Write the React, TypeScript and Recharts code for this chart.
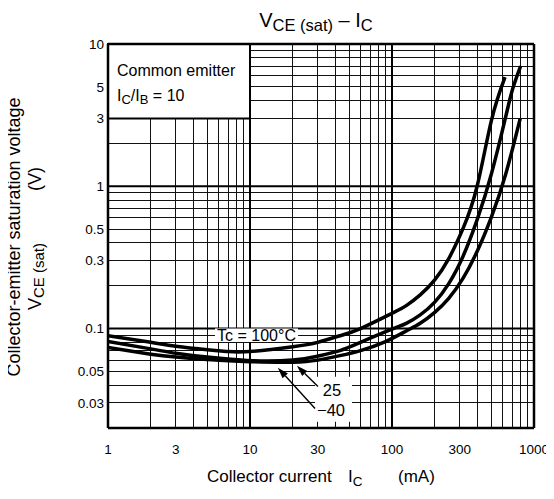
import React from 'react';
import {
  LineChart,
  Line,
  XAxis,
  YAxis,
  ReferenceLine,
  ReferenceArea,
  ReferenceDot,
  Customized,
} from 'recharts';

// ---- axes ----
const xTicks = [1, 3, 10, 30, 100, 300, 1000];
const yTicks = [0.03, 0.05, 0.1, 0.3, 0.5, 1, 3, 5, 10];
const xMinorGrid = [2, 3, 4, 5, 6, 7, 8, 9, 20, 30, 40, 50, 60, 70, 80, 90, 200, 300, 400, 500, 600, 700, 800, 900];
const xDecadeGrid = [10, 100];
const yMinorGrid = [0.03, 0.04, 0.05, 0.06, 0.07, 0.08, 0.09, 0.2, 0.3, 0.4, 0.5, 0.6, 0.7, 0.8, 0.9, 2, 3, 4, 5, 6, 7, 8, 9];
const yDecadeGrid = [0.1, 1];
const xDomain = [1, 1000];
const yDomain = [0.02, 10];

// ---- series: collector current (mA) vs VCE(sat) (V) ----
const ic100 = [1, 2, 3, 5, 7, 10, 20, 30, 43, 60, 100, 126, 158, 200, 251, 316, 398, 501, 625];
const vce100 = [0.089, 0.08, 0.075, 0.071, 0.069, 0.069, 0.0745, 0.08, 0.089, 0.1, 0.128, 0.145, 0.1726, 0.2198, 0.3105, 0.5035, 1.005, 2.897, 5.85];

const ic25 = [1, 2, 3, 5, 10, 20, 30, 43, 60, 100, 126, 158, 200, 251, 316, 398, 501, 631, 708, 805];
const vce25 = [0.081, 0.072, 0.067, 0.063, 0.0595, 0.06, 0.064, 0.07, 0.08, 0.099, 0.1087, 0.1247, 0.1535, 0.207, 0.321, 0.583, 1.22, 3.06, 4.85, 7.0];

const icM40 = [1, 2, 3, 5, 10, 20, 30, 43, 60, 90, 126, 158, 200, 251, 316, 398, 501, 631, 800];
const vceM40 = [0.0735, 0.066, 0.063, 0.0605, 0.0585, 0.058, 0.06, 0.0645, 0.07, 0.081, 0.0962, 0.109, 0.13, 0.163, 0.225, 0.349, 0.607, 1.21, 3.0];

const zip = (xs: number[], ys: number[]) => xs.map((x, i) => ({ x, y: ys[i] }));
const d100 = zip(ic100, vce100);
const d25 = zip(ic25, vce25);
const dM40 = zip(icM40, vceM40);

const FONT = '"Liberation Sans", Arial, Helvetica, sans-serif';

const ArrowShape = (p: any) => {
  const { x1, y1, x2, y2 } = p;
  const dx = x2 - x1;
  const dy = y2 - y1;
  const len = Math.hypot(dx, dy) || 1;
  const ux = dx / len;
  const uy = dy / len;
  const hl = 11;
  const hw = 3.6;
  const bx = x2 - ux * hl;
  const by = y2 - uy * hl;
  const pts = `${x2},${y2} ${bx - uy * hw},${by + ux * hw} ${bx + uy * hw},${by - ux * hw}`;
  return (
    <g>
      <line x1={x1} y1={y1} x2={bx} y2={by} stroke="#000" strokeWidth={1.4} />
      <polygon points={pts} fill="#000" />
    </g>
  );
};

const BoxText = (p: any) => {
  const vb = p.viewBox || { x: 0, y: 0 };
  const x = vb.x + 9;
  const y = vb.y;
  return (
    <g fontFamily={FONT} fill="#000">
      <text x={x} y={y + 32} fontSize={16}>Common emitter</text>
      <text x={x} y={y + 57} fontSize={16}>
        <tspan>I</tspan>
        <tspan fontSize={13} dy={3}>C</tspan>
        <tspan dy={-3}>/I</tspan>
        <tspan fontSize={13} dy={3}>B</tspan>
        <tspan dy={-3}> = 10</tspan>
      </text>
    </g>
  );
};

const Titles = () => (
  <g fontFamily={FONT} fill="#000">
    <text x={316} y={27} textAnchor="middle" fontSize={20}>
      <tspan>V</tspan>
      <tspan fontSize={16.5} dy={4}>CE (sat)</tspan>
      <tspan dy={-4}> – I</tspan>
      <tspan fontSize={16.5} dy={4}>C</tspan>
    </text>
    <text y={481.5} fontSize={17}>
      <tspan x={207}>Collector current</tspan>
      <tspan x={348}>I</tspan>
      <tspan fontSize={13.5} dy={4}>C</tspan>
      <tspan x={398} dy={-4}>(mA)</tspan>
    </text>
    <text x={0} y={0} transform="translate(20,237) rotate(-90)" textAnchor="middle" fontSize={18}>
      Collector-emitter saturation voltage
    </text>
    <text x={0} y={0} transform="translate(41,310) rotate(-90)" fontSize={18}>
      <tspan>V</tspan>
      <tspan fontSize={15} dy={3}>CE (sat)</tspan>
      <tspan dx={52} dy={-3}>(V)</tspan>
    </text>
  </g>
);

export default function App() {
  const tickStyle = { fontSize: 13.5, fill: '#000', fontFamily: FONT };
  return (
    <div style={{ margin: '-8px 0 0 -8px', width: 554, height: 499 }}>
      <LineChart width={554} height={499} margin={{ top: 44, right: 20, bottom: 41, left: 48 }}>
        <XAxis
          type="number"
          dataKey="x"
          scale="log"
          domain={xDomain}
          ticks={xTicks}
          interval={0}
          allowDataOverflow
          axisLine={false}
          tickLine={false}
          tickSize={0}
          tickMargin={16}
          height={30}
          tick={tickStyle}
          tickFormatter={(v: number) => String(v)}
        />
        <YAxis
          type="number"
          scale="log"
          domain={yDomain}
          ticks={yTicks}
          interval={0}
          allowDataOverflow
          axisLine={false}
          tickLine={false}
          tickSize={0}
          tickMargin={4}
          width={60}
          tick={tickStyle}
          tickFormatter={(v: number) => String(v)}
        />

        {xMinorGrid.map((v) => (
          <ReferenceLine key={'xm' + v} x={v} stroke="#111" strokeWidth={1} shapeRendering="crispEdges" zIndex={100} />
        ))}
        {yMinorGrid.map((v) => (
          <ReferenceLine key={'ym' + v} y={v} stroke="#111" strokeWidth={1} shapeRendering="crispEdges" zIndex={100} />
        ))}
        {xDecadeGrid.map((v) => (
          <ReferenceLine key={'xd' + v} x={v} stroke="#000" strokeWidth={2} zIndex={110} />
        ))}
        {yDecadeGrid.map((v) => (
          <ReferenceLine key={'yd' + v} y={v} stroke="#000" strokeWidth={2} zIndex={110} />
        ))}

        <ReferenceArea
          x1={1}
          x2={10}
          y1={3}
          y2={10}
          fill="#fff"
          fillOpacity={1}
          stroke="#000"
          strokeWidth={2}
          zIndex={200}
          label={(p: any) => <BoxText {...p} />}
        />
        <ReferenceArea
          x1={5.67}
          x2={21.8}
          y1={0.0805}
          y2={0.1}
          fill="#fff"
          fillOpacity={1}
          stroke="none"
          zIndex={200}
          label={{ value: 'Tc = 100°C', position: 'center', fill: '#000', fontSize: 16, fontFamily: FONT }}
        />
        <ReferenceArea x1={28.7} x2={52.3} y1={0.0221} y2={0.0459} fill="#fff" fillOpacity={1} stroke="none" zIndex={200} />

        <Line data={d100} dataKey="y" type="natural" stroke="#000" strokeWidth={3.5} dot={false} activeDot={false} isAnimationActive={false} zIndex={300} />
        <Line data={d25} dataKey="y" type="natural" stroke="#000" strokeWidth={3.5} dot={false} activeDot={false} isAnimationActive={false} zIndex={300} />
        <Line data={dM40} dataKey="y" type="natural" stroke="#000" strokeWidth={3.5} dot={false} activeDot={false} isAnimationActive={false} zIndex={300} />

        <ReferenceLine x={1} stroke="#000" strokeWidth={2.5} zIndex={350} />
        <ReferenceLine x={1000} stroke="#000" strokeWidth={2.5} zIndex={350} />
        <ReferenceLine y={0.02} stroke="#000" strokeWidth={2.5} zIndex={350} />
        <ReferenceLine y={10} stroke="#000" strokeWidth={2.5} zIndex={350} />

        <ReferenceDot x={37.8} y={0.0372} r={0} fill="none" stroke="none" zIndex={400}
          label={{ value: '25', position: 'center', fill: '#000', fontSize: 16.5, fontFamily: FONT }} />
        <ReferenceDot x={37.2} y={0.0269} r={0} fill="none" stroke="none" zIndex={400}
          label={{ value: '−40', position: 'center', fill: '#000', fontSize: 16.5, fontFamily: FONT }} />

        <ReferenceLine segment={[{ x: 30.1, y: 0.0391 }, { x: 21.4, y: 0.0548 }]} shape={ArrowShape} zIndex={450} />
        <ReferenceLine segment={[{ x: 28.7, y: 0.0274 }, { x: 15.7, y: 0.0531 }]} shape={ArrowShape} zIndex={450} />

        <Customized component={<Titles />} />
      </LineChart>
    </div>
  );
}
